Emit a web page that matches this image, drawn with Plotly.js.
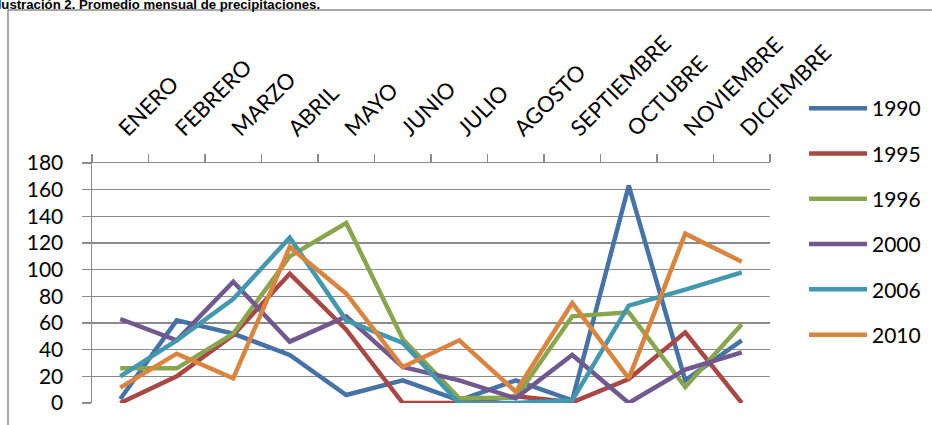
<!DOCTYPE html>
<html>
<head>
<meta charset="utf-8">
<script src="https://cdn.plot.ly/plotly-3.0.1.min.js"></script>
<style>
html,body{margin:0;padding:0;background:#fff;}
#chart{width:932px;height:425px;}
</style>
</head>
<body>
<div id="chart"></div>
<script>
const months = ["ENERO","FEBRERO","MARZO","ABRIL","MAYO","JUNIO","JULIO","AGOSTO","SEPTIEMBRE","OCTUBRE","NOVIEMBRE","DICIEMBRE"];
const seriesNames = ["1990","1995","1996","2000","2006","2010"];
const y1990 = [3, 62, 52, 36, 6, 17, 2, 17, 2, 163, 17, 47];
const y1995 = [0, 20, 51, 97, 55, 0, 0, 5, 0.5, 18, 53, 0];
const y1996 = [26, 26, 52, 110, 135, 48, 3.5, 4, 65, 68, 12, 59];
const y2000 = [63, 47, 91, 46, 65, 27, 17, 3.5, 36, 0, 25, 38];
const y2006 = [20, 47, 78, 124, 62, 45, 0, 0, 2, 73, 85, 98];
const y2010 = [11.5, 37, 18.5, 117, 82, 27, 47, 8.5, 75, 18.5, 127, 106];
const seriesValues = [y1990, y1995, y1996, y2000, y2006, y2010];
const colors = ["#4572A7","#AA4643","#89A54E","#71588F","#4198AF","#DB843D"];
const titleText = "Ilustración 2. Promedio mensual de precipitaciones.";

const traces = seriesNames.map((n, i) => ({
  type: "scatter",
  mode: "lines",
  name: n,
  x: months,
  y: seriesValues[i],
  legendgroup: "g" + i,
  line: {color: colors[i], width: 4.5}
}));

const FONT = "Lato, 'Open Sans', sans-serif";
const L = 92, R = 162, T = 163, B = 22;
const W = 932 - L - R, H = 425 - T - B;
const px = x => (x - L) / W;
const py = y => (425 - B - y) / H;

const layout = {
  width: 932, height: 425,
  margin: {l: L, r: R, t: T, b: B, pad: 0, autoexpand: false},
  paper_bgcolor: "#ffffff",
  plot_bgcolor: "#ffffff",
  font: {family: FONT, size: 21, color: "#000"},
  showlegend: true,
  legend: {
    x: px(804), xanchor: "left",
    y: py(88), yanchor: "top",
    font: {family: FONT, size: 21, color: "#000"},
    tracegroupgap: 15,
    itemwidth: 58,
    maxheight: 400,
    bgcolor: "rgba(0,0,0,0)"
  },
  xaxis: {
    type: "category",
    side: "top",
    range: [-0.5, 11.5],
    tickangle: -45,
    ticks: "outside",
    tickson: "boundaries",
    ticklen: 8,
    tickwidth: 1.5,
    tickcolor: "#8a8a8a",
    showline: true,
    linecolor: "#8a8a8a",
    linewidth: 1.5,
    showgrid: false,
    zeroline: false,
    ticklabelstandoff: 12,
    tickfont: {family: FONT, size: 22, color: "#000"},
    automargin: false
  },
  yaxis: {
    range: [0, 180],
    dtick: 20,
    tick0: 0,
    ticks: "outside",
    ticklen: 9,
    tickwidth: 1.5,
    tickcolor: "#8a8a8a",
    showline: true,
    linecolor: "#8a8a8a",
    linewidth: 1.5,
    showgrid: true,
    gridcolor: "#8a8a8a",
    gridwidth: 1.5,
    zeroline: false,
    ticklabelstandoff: 14,
    tickfont: {family: FONT, size: 21, color: "#000"},
    automargin: false
  },
  shapes: [
    {type: "line", xref: "paper", yref: "paper", x0: px(8), x1: px(8), y0: py(10), y1: py(440), line: {color: "#8a8a8a", width: 1.5}},
    {type: "line", xref: "paper", yref: "paper", x0: px(8), x1: px(940), y0: py(10), y1: py(10), line: {color: "#8a8a8a", width: 1.5}}
  ],
  annotations: [
    {text: "<b>" + titleText + "</b>", xref: "paper", yref: "paper", x: px(-8.5), y: py(14), xanchor: "left", yanchor: "bottom",
     showarrow: false, font: {family: "'Liberation Sans', Arial, sans-serif", size: 13.2, color: "#000"}}
  ]
};

Plotly.newPlot("chart", traces, layout, {displayModeBar: false, staticPlot: true});
</script>
</body>
</html>
